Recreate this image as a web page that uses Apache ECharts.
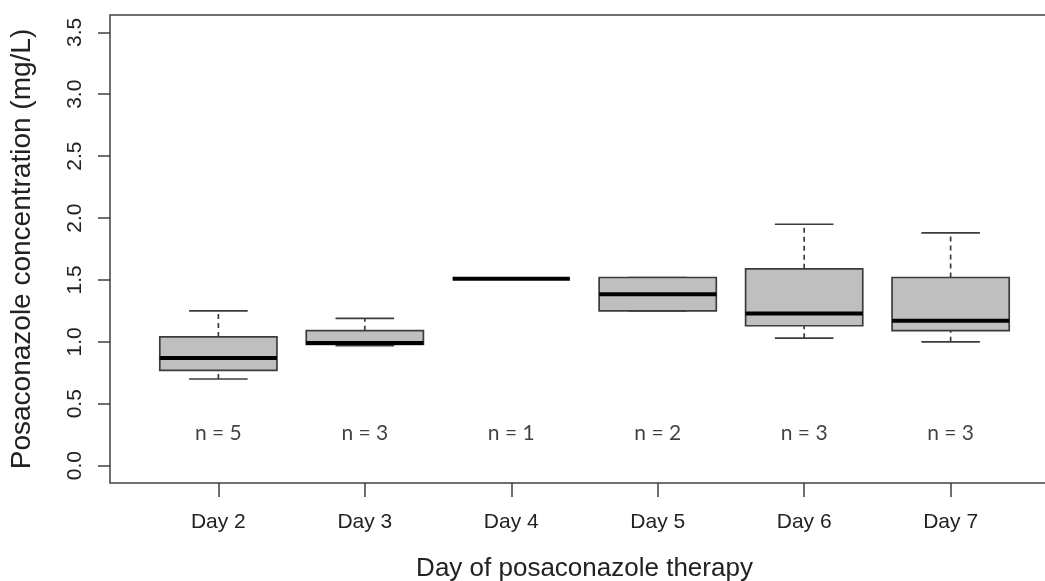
<!DOCTYPE html>
<html>
<head>
<meta charset="utf-8">
<script src="https://cdn.jsdelivr.net/npm/echarts@6/dist/echarts.min.js"></script>
<style>
html,body{margin:0;padding:0;background:#fff;}
#chart{width:1045px;height:581px;}
</style>
</head>
<body>
<div id="chart"></div>
<script>
// ---- data ----
const days = ['Day 2', 'Day 3', 'Day 4', 'Day 5', 'Day 6', 'Day 7'];
const whiskerLow  = [0.70, 0.97, 1.51, 1.25, 1.03, 1.00];
const quartile1   = [0.77, 0.98, 1.51, 1.25, 1.13, 1.09];
const medians     = [0.87, 0.99, 1.51, 1.385, 1.23, 1.17];
const quartile3   = [1.04, 1.09, 1.51, 1.52, 1.59, 1.52];
const whiskerHigh = [1.25, 1.19, 1.51, 1.52, 1.95, 1.88];
const sampleSizes = [5, 3, 1, 2, 3, 3];
const yTicks = [0, 0.5, 1.0, 1.5, 2.0, 2.5, 3.0, 3.5];
const nLabelY = 0.26;

const positions = days.map((d, i) => i + 1);
const boxData = days.map((d, i) => [positions[i], whiskerLow[i], quartile1[i], medians[i], quartile3[i], whiskerHigh[i]]);
const nData = days.map((d, i) => [positions[i], nLabelY, sampleSizes[i]]);

const frameColor = '#404040';
const boxEdge = '#3c3c3c';
const boxFill = '#bfbfbf';

function renderBox(params, api) {
  const x = api.value(0);
  const lo = api.coord([x, api.value(1)]);
  const q1 = api.coord([x, api.value(2)]);
  const md = api.coord([x, api.value(3)]);
  const q3 = api.coord([x, api.value(4)]);
  const hi = api.coord([x, api.value(5)]);
  const half = api.size([0.8, 0])[0] / 2;
  const cap = half / 2;
  const cx = lo[0];
  const children = [];
  children.push({type: 'line', shape: {x1: cx, y1: q3[1], x2: cx, y2: hi[1]},
    style: {stroke: boxEdge, lineWidth: 1.7, lineDash: [5, 4]}});
  children.push({type: 'line', shape: {x1: cx, y1: lo[1], x2: cx, y2: q1[1]},
    style: {stroke: boxEdge, lineWidth: 1.7, lineDash: [5, 4]}});
  children.push({type: 'line', shape: {x1: cx - cap, y1: hi[1], x2: cx + cap, y2: hi[1]},
    style: {stroke: boxEdge, lineWidth: 1.7}});
  children.push({type: 'line', shape: {x1: cx - cap, y1: lo[1], x2: cx + cap, y2: lo[1]},
    style: {stroke: boxEdge, lineWidth: 1.7}});
  children.push({type: 'rect', shape: {x: cx - half, y: q3[1], width: 2 * half, height: q1[1] - q3[1]},
    style: {fill: boxFill, stroke: boxEdge, lineWidth: 1.7}});
  children.push({type: 'line', shape: {x1: cx - half, y1: md[1], x2: cx + half, y2: md[1]},
    style: {stroke: '#000', lineWidth: 4}});
  return {type: 'group', children: children};
}

const chart = echarts.init(document.getElementById('chart'), null, {renderer: 'canvas'});
chart.setOption({
  backgroundColor: '#fff',
  animation: false,
  grid: {left: 110, top: 15, width: 949, height: 468, show: true,
    outerBoundsMode: 'none', containLabel: false,
    borderColor: frameColor, borderWidth: 1.5, backgroundColor: 'transparent'},
  xAxis: {
    type: 'value', min: 0.26, max: 6.74,
    name: 'Day of posaconazole therapy', nameLocation: 'middle', nameGap: 73, nameMoveOverlap: false,
    nameTextStyle: {fontFamily: 'Liberation Sans', fontSize: 26, color: '#222'},
    axisLine: {show: false, onZero: false},
    splitLine: {show: false},
    axisTick: {show: true, inside: false, length: 14, customValues: positions,
      lineStyle: {color: frameColor, width: 1.5}},
    axisLabel: {show: true, customValues: positions, margin: 29,
      fontFamily: 'Liberation Sans', fontSize: 21, color: '#222',
      formatter: v => days[Math.round(v) - 1]}
  },
  yAxis: {
    type: 'value', min: -0.14, max: 3.64,
    name: 'Posaconazole concentration (mg/L)', nameLocation: 'middle', nameGap: 74, nameRotate: 90,
    nameMoveOverlap: false,
    nameTextStyle: {fontFamily: 'Liberation Sans', fontSize: 28, color: '#222'},
    axisLine: {show: false, onZero: false},
    splitLine: {show: false},
    axisTick: {show: true, inside: false, length: 12, customValues: yTicks,
      lineStyle: {color: frameColor, width: 1.5}},
    axisLabel: {show: true, customValues: yTicks, rotate: 90, margin: 24,
      fontFamily: 'Liberation Sans', fontSize: 21, color: '#222',
      formatter: v => v.toFixed(1)}
  },
  series: [
    {type: 'custom', renderItem: renderBox, data: boxData, encode: {x: 0, y: [1, 2, 3, 4, 5]}, clip: false},
    {type: 'scatter', data: nData, symbolSize: 0, silent: true,
      label: {show: true, position: 'inside', fontFamily: 'Lato', fontSize: 21, color: '#111',
        formatter: p => 'n = ' + p.value[2]}}
  ]
});
</script>
</body>
</html>
